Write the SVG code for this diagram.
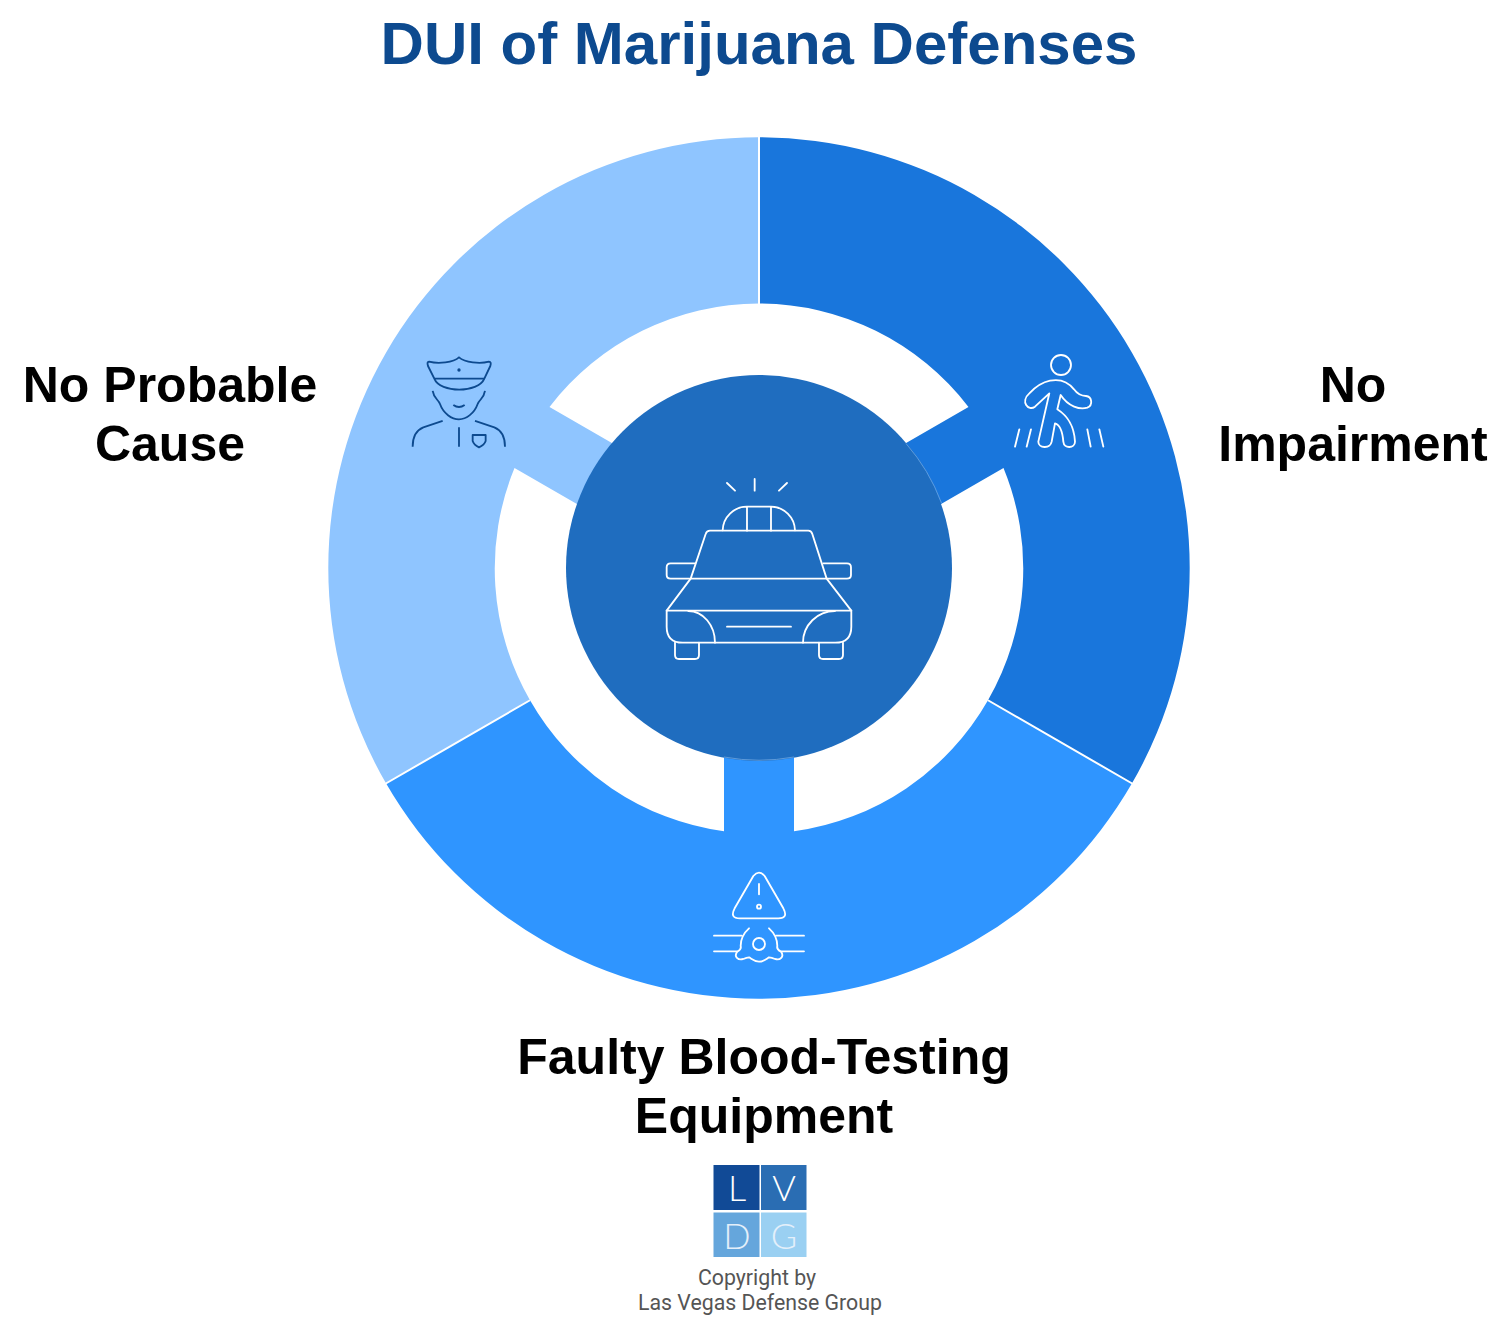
<svg xmlns="http://www.w3.org/2000/svg" width="1507" height="1320" viewBox="0 0 1507 1320">
<style>
text{font-family:"Liberation Sans",Arial,sans-serif}
.t{font-size:60px;font-weight:700;fill:#0d4a8f;text-anchor:middle}
.l{font-size:50px;font-weight:700;fill:#000;text-anchor:middle}
.w{fill:none;stroke:#fff;stroke-width:5.500;stroke-linecap:round;stroke-linejoin:round}
.d{fill:none;stroke:#0d4a8f;stroke-width:5.500;stroke-linecap:butt;stroke-linejoin:round}
.h{fill:none;stroke:#6fa6e0;stroke-width:.8}
.lg{font-family:Lato,"Open Sans",sans-serif;font-weight:300;font-size:36px;text-anchor:middle}
.c{font-family:Roboto,sans-serif;font-size:21.300px;fill:#555;text-anchor:middle}
</style>
<rect width="1507" height="1320" fill="#fff"/>
<text class="t" x="759" y="64">DUI of Marijuana Defenses</text>
<g id="segment-no-impairment">
<path fill="#1976dc" d="M759 137.300A430.700 430.700 0 0 1 1132 783.350L988 700.250A264.500 264.500 0 0 0 1003.500 468L938.500 505.500L903.500 444.500L968.500 407A264.500 264.500 0 0 0 759 303.500Z"/>
<g transform="translate(1000 340) scale(.3333)"><circle class="w" cx="183" cy="75" r="30"/><path class="w" d="M150 122C185 115 208 130 222 148C232 162 242 168 258 168C276 170 280 195 262 203C240 210 205 200 182 165L172 208C198 225 222 250 225 305C225 325 192 328 190 305C188 280 182 255 165 250L155 305C150 328 115 325 115 305L148 160L105 200C85 215 60 185 88 160C105 142 125 127 150 122Z"/><path class="w" d="M58 268L45 320M93 268L80 320M262 268L272 320M298 268L310 320"/></g>
</g>
<g id="segment-faulty-equipment">
<path fill="#2f95ff" d="M1132 783.350A430.700 430.700 0 0 1 386 783.350L530 700.250A264.500 264.500 0 0 0 724 831.300V750H794V831.300A264.500 264.500 0 0 0 988 700.250Z"/>
<g transform="translate(700 860) scale(.3333)"><path class="w" d="M160 48Q177 28 194 48L250 145Q266 175 235 175H120Q88 175 104 145Z"/><path class="w" d="M177 72V103"/><circle class="w" cx="177" cy="140" r="6"/><path class="w" d="M42 227H125M42 274H110M228 227H312M245 274H312"/><circle class="w" cx="177" cy="252" r="18"/><path class="w" d="M147 205C130 220 122 235 122 258Q125 268 112 275C100 290 115 302 130 297Q140 292 147 292C160 300 165 305 177 305C190 305 195 300 207 292Q215 292 225 297C240 302 254 290 243 275Q229 268 232 258C232 235 224 220 207 205"/></g>
</g>
<g id="segment-no-probable-cause">
<path fill="#8fc5ff" d="M759 137.300A430.700 430.700 0 0 0 386 783.350L530 700.250A264.500 264.500 0 0 1 514.500 468L579.500 505.500L614.500 444.500L549.500 407A264.500 264.500 0 0 1 759 303.500Z"/>
<g transform="translate(395 340) scale(.3333)"><path class="d" d="M192 52C175 68 130 72 102 65Q95 65 99 78L118 116C135 160 250 160 268 116L286 78Q290 65 282 65C255 72 210 68 192 52Z"/><path class="d" d="M118 116H268"/><circle cx="192" cy="90" r="5" fill="#0d4a8f"/><path class="d" d="M113 153C116 175 130 178 135 192C145 220 170 238 192 238C214 238 238 220 248 192C253 178 267 175 270 153"/><path class="d" d="M175 195Q192 207 209 195"/><path class="d" d="M143 243L85 262C65 270 53 290 53 320M240 243L298 262C318 270 330 290 330 320M192 262V320"/><path class="d" d="M233 285H272V303Q268 315 252 322Q237 315 233 303Z"/></g>
</g>
<g id="separators" stroke="#fff" stroke-width="2">
<path d="M759 136V304M1133 784L988 700.250M385 784L530 700.250"/>
</g>
<g id="center-hub">
<circle cx="759" cy="568" r="193" fill="#1f6dbf"/>
<path class="h" d="M906 443.500A192.500 192.500 0 0 1 941.500 503M724 757A192 192 0 0 0 794 757"/>
<g transform="translate(640 460) scale(.3333)"><path class="w" d="M261 69L285 92M344 57V92M441 69L417 92"/><path class="w" d="M248 211A73 73 0 0 1 321 140H393A73 73 0 0 1 465 211M321 140V212M393 140V212"/><path class="w" d="M152 356L197 222Q200 212 210 212H505Q514 212 517 222L560 356M80 452L152 356H560L634 452"/><path class="w" d="M166 310H92Q80 310 80 322V345Q80 356 92 356H152M550 310H621Q633 310 633 322V345Q633 356 621 356H562"/><path class="w" d="M80 452H634V500Q634 548 586 548H128Q80 548 80 500Z"/><path class="w" d="M145 453A80 95 0 0 1 225 548M585 453A96 95 0 0 0 489 548M261 500H453"/><path class="w" d="M105 548V585Q105 597 117 597H165Q177 597 177 585V548M537 548V585Q537 597 549 597H597Q609 597 609 585V548"/></g>
</g>
<g id="label-no-impairment"><text class="l" x="1353" y="402">No</text><text class="l" x="1353" y="461">Impairment</text></g>
<g id="label-no-probable-cause"><text class="l" x="170" y="402">No Probable</text><text class="l" x="170" y="461">Cause</text></g>
<g id="label-faulty-equipment"><text class="l" x="764" y="1074">Faulty Blood-Testing</text><text class="l" x="764" y="1133">Equipment</text></g>
<g id="logo">
<rect x="713.500" y="1165" width="46" height="45" fill="#114a96"/><rect x="761" y="1165" width="45.500" height="45" fill="#2a6db3"/><rect x="713.500" y="1212.500" width="46" height="44.500" fill="#65a6dc"/><rect x="761" y="1212.500" width="45.500" height="44.500" fill="#9ad0f2"/>
<text class="lg" x="737" y="1201" fill="#fff">L</text><text class="lg" x="784" y="1201" fill="#fff">V</text><text class="lg" x="737" y="1249" fill="#e3effa">D</text><text class="lg" x="784" y="1249" fill="#e3effa">G</text>
<text class="c" x="757" y="1285">Copyright by</text><text class="c" x="760" y="1310">Las Vegas Defense Group</text>
</g>
</svg>
